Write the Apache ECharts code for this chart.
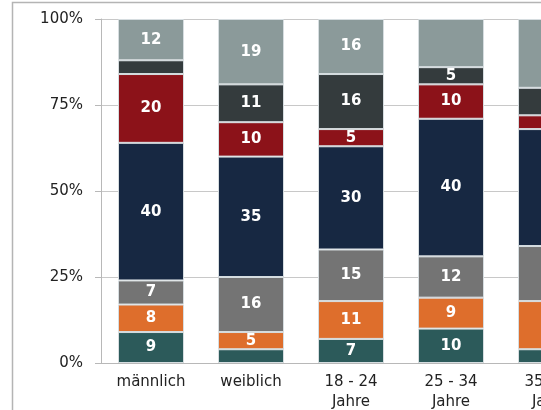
<!DOCTYPE html>
<html>
<head>
<meta charset="utf-8">
<style>
  html, body { margin: 0; padding: 0; background: #fff; overflow: hidden; width: 541px; height: 410px; }
  #chart { width: 641px; height: 410px; }
</style>
<script src="https://cdn.jsdelivr.net/npm/echarts@6/dist/echarts.min.js"></script>
</head>
<body>
<div id="chart"></div>
<script>
// Groups along the x axis
const categories = ['männlich', 'weiblich', '18 - 24\nJahre', '25 - 34\nJahre', '35 - 44\nJahre'];

// Stacked shares in percent, bottom to top
const seriesTeal      = [9, 4, 7, 10, 4];
const seriesOrange    = [8, 5, 11, 9, 14];
const seriesGray      = [7, 16, 15, 12, 16];
const seriesNavy      = [40, 35, 30, 40, 34];
const seriesRed       = [20, 10, 5, 10, 4];
const seriesDark      = [4, 11, 16, 5, 8];
const seriesLightGray = [12, 19, 16, 14, 20];

// Segments that carry no value label: [series index, category index]
const unlabeled = [[0, 1], [5, 0], [6, 3]];

const yTicks = [0, 25, 50, 75, 100];

const stacks = [
  { data: seriesTeal,      color: '#2c5a5a' },
  { data: seriesOrange,    color: '#de6e2c' },
  { data: seriesGray,      color: '#747474' },
  { data: seriesNavy,      color: '#172842' },
  { data: seriesRed,       color: '#8c1219' },
  { data: seriesDark,      color: '#343b3d' },
  { data: seriesLightGray, color: '#8b9a9a' }
];

const isHidden = (s, c) => unlabeled.some(u => u[0] === s && u[1] === c);

const FONT = 'DejaVu Sans, Verdana, sans-serif';

const chart = echarts.init(document.getElementById('chart'), null, { renderer: 'canvas' });

chart.setOption({
  animation: false,
  textStyle: { fontFamily: FONT },
  graphic: [{
    type: 'polyline',
    shape: { points: [[12.5, 420], [12.5, 2.5], [660, 2.5]] },
    style: { stroke: '#b4b4b4', lineWidth: 1.5, fill: null },
    silent: true
  }],
  grid: { left: 101, top: 19, width: 500, height: 344, outerBoundsMode: 'none' },
  xAxis: {
    type: 'category',
    data: categories,
    axisLine: { show: true, lineStyle: { color: '#b8b8b8', width: 1 } },
    axisTick: { show: false },
    axisLabel: { color: '#222', fontFamily: FONT, fontSize: 15, lineHeight: 20, margin: 9 },
    splitLine: { show: false }
  },
  yAxis: {
    type: 'value',
    min: 0,
    max: 100,
    interval: 25,
    axisLine: { show: true, lineStyle: { color: '#b8b8b8', width: 1 } },
    axisTick: { show: true, length: 6, lineStyle: { color: '#b8b8b8' } },
    axisLabel: {
      color: '#222', fontFamily: FONT, fontSize: 15, margin: 18,
      formatter: v => (yTicks.includes(v) ? v + '%' : '')
    },
    splitLine: { show: true, lineStyle: { color: '#c8c8c8', width: 1 } }
  },
  series: stacks.map((st, si) => ({
    type: 'bar',
    stack: 'total',
    barWidth: 66,
    itemStyle: { color: st.color, borderColor: '#d6dde0', borderWidth: 1 },
    label: {
      show: true,
      position: 'inside',
      color: '#fff',
      fontFamily: FONT,
      fontWeight: 'bold',
      fontSize: 15,
      formatter: p => (isHidden(si, p.dataIndex) ? '' : String(p.value))
    },
    data: st.data
  }))
});
</script>
</body>
</html>
